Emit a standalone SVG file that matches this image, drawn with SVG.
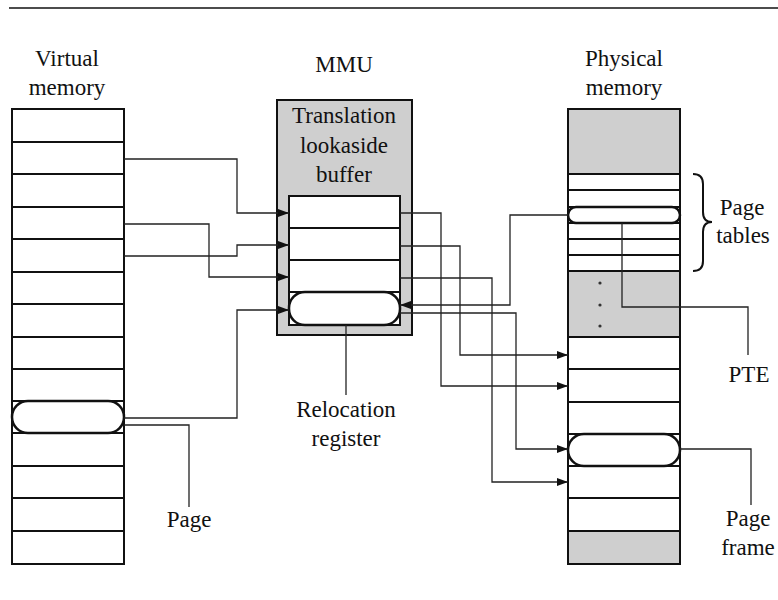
<svg xmlns="http://www.w3.org/2000/svg" width="778" height="600" viewBox="0 0 778 600">
<style>
text{font-family:"Liberation Serif","Times New Roman","DejaVu Serif",serif;font-size:23px;fill:#111;text-anchor:middle}
.box{stroke:#111;stroke-width:2;fill:#fff}
.frame{stroke:#111;stroke-width:2;fill:none}
.grey{fill:#cfcfcf;stroke:none}
.row{stroke:#111;stroke-width:2}
.oval{stroke:#111;stroke-width:2.5;fill:#fff}
.con{stroke:#222;stroke-width:1.3;fill:none}
.arr{marker-end:url(#ah)}
</style>
<defs>
<marker id="ah" markerUnits="userSpaceOnUse" markerWidth="11" markerHeight="8" refX="11" refY="4" orient="auto">
<path d="M0,0 L11,4 L0,8 z" fill="#111"/>
</marker>
</defs>
<rect width="778" height="600" fill="#fff"/>
<line x1="9" y1="8" x2="778" y2="8" stroke="#111" stroke-width="1.5"/>

<g id="virtual-memory">
<text x="67" y="66">Virtual</text>
<text x="67" y="95">memory</text>
<rect class="box" x="12" y="109" width="112" height="455"/>
<g class="row">
<line x1="12" y1="142" x2="124" y2="142"/>
<line x1="12" y1="174" x2="124" y2="174"/>
<line x1="12" y1="207" x2="124" y2="207"/>
<line x1="12" y1="239" x2="124" y2="239"/>
<line x1="12" y1="272" x2="124" y2="272"/>
<line x1="12" y1="304" x2="124" y2="304"/>
<line x1="12" y1="337" x2="124" y2="337"/>
<line x1="12" y1="369" x2="124" y2="369"/>
<line x1="12" y1="401" x2="124" y2="401"/>
<line x1="12" y1="433" x2="124" y2="433"/>
<line x1="12" y1="466" x2="124" y2="466"/>
<line x1="12" y1="498" x2="124" y2="498"/>
<line x1="12" y1="531" x2="124" y2="531"/>
</g>
<rect id="page" class="oval" x="12" y="401" width="112" height="32" rx="16"/>
</g>

<g id="mmu">
<text x="344" y="72">MMU</text>
<rect x="277" y="100" width="135" height="235" fill="#cfcfcf" stroke="#111" stroke-width="2"/>
<text x="344" y="123">Translation</text>
<text x="344" y="153">lookaside</text>
<text x="344" y="182">buffer</text>
<rect class="box" x="289" y="196" width="111" height="129"/>
<g class="row">
<line x1="289" y1="228" x2="400" y2="228"/>
<line x1="289" y1="260" x2="400" y2="260"/>
<line x1="289" y1="292" x2="400" y2="292"/>
</g>
<rect id="relocation-register" class="oval" x="289" y="292" width="111" height="33" rx="16"/>
</g>

<g id="physical-memory">
<text x="624" y="66">Physical</text>
<text x="624" y="95">memory</text>
<rect class="box" x="568" y="109" width="112" height="455"/>
<rect class="grey" x="569" y="110" width="110" height="64"/>
<rect class="grey" x="569" y="271" width="110" height="66"/>
<rect class="grey" x="569" y="531" width="110" height="32"/>
<g class="row">
<line x1="568" y1="174" x2="680" y2="174"/>
<line x1="568" y1="190" x2="680" y2="190"/>
<line x1="568" y1="207" x2="680" y2="207"/>
<line x1="568" y1="223" x2="680" y2="223"/>
<line x1="568" y1="239" x2="680" y2="239"/>
<line x1="568" y1="255" x2="680" y2="255"/>
<line x1="568" y1="271" x2="680" y2="271"/>
<line x1="568" y1="337" x2="680" y2="337"/>
<line x1="568" y1="369" x2="680" y2="369"/>
<line x1="568" y1="402" x2="680" y2="402"/>
<line x1="568" y1="434" x2="680" y2="434"/>
<line x1="568" y1="466" x2="680" y2="466"/>
<line x1="568" y1="498" x2="680" y2="498"/>
<line x1="568" y1="531" x2="680" y2="531"/>
</g>
<rect class="frame" x="568" y="109" width="112" height="455"/>
<rect id="pte" class="oval" x="568" y="207" width="112" height="16" rx="8"/>
<rect id="page-frame" class="oval" x="568" y="434" width="112" height="32" rx="16"/>
<g fill="#333">
<circle cx="600" cy="283" r="1.6"/>
<circle cx="600" cy="305" r="1.6"/>
<circle cx="600" cy="326" r="1.6"/>
</g>
<path d="M693,174 Q703,174 703,184 L703,212 Q703,222 712,222 Q703,222 703,232 L703,261 Q703,271 693,271" fill="none" stroke="#111" stroke-width="2"/>
<text x="742" y="215">Page</text>
<text x="743" y="243">tables</text>
</g>

<g id="connectors">
<path class="con arr" d="M124,159 H237 V213 H289"/>
<path class="con arr" d="M124,224 H209 V277 H289"/>
<path class="con arr" d="M124,256 H237 V245 H289"/>
<path class="con arr" d="M124,418 H237 V310 H289"/>
<path class="con arr" d="M400,213 H441 V386 H568"/>
<path class="con arr" d="M400,246 H460 V355 H568"/>
<path class="con arr" d="M400,278 H492 V482 H568"/>
<path class="con arr" d="M400,313 H516 V449 H568"/>
<path class="con arr" d="M568,215 H510 V305 H400"/>
<path class="con" d="M124,425 H189 V507"/>
<path class="con" d="M346,325 V395"/>
<path class="con" d="M622,223 V307 H748 V355"/>
<path class="con" d="M680,449 H751 V505"/>
</g>

<g id="labels">
<text x="189" y="527">Page</text>
<text x="346" y="417">Relocation</text>
<text x="346" y="446">register</text>
<text x="749" y="382">PTE</text>
<text x="748" y="526">Page</text>
<text x="748" y="555">frame</text>
</g>
</svg>
